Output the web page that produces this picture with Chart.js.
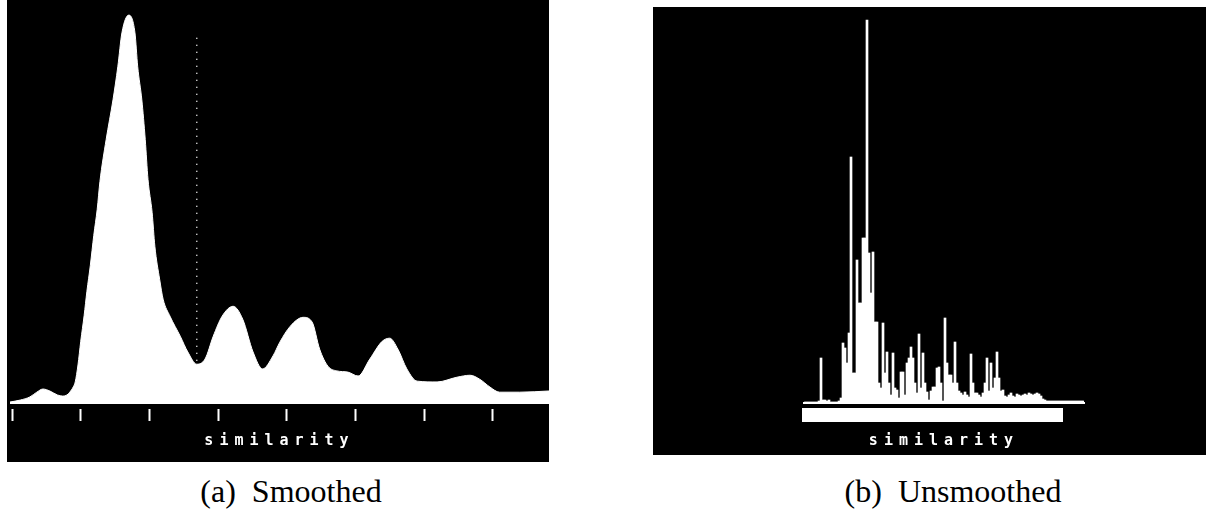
<!DOCTYPE html>
<html>
<head>
<meta charset="utf-8">
<script src="https://cdn.jsdelivr.net/npm/chart.js@4.4.0/dist/chart.umd.min.js"></script>
<style>
  body { margin: 0; background: #fff; width: 1206px; height: 514px; position: relative; overflow: hidden; }
  canvas { position: absolute; background: #000; }
  #smoothChart { left: 7px; top: 0; }
  #unsmChart { left: 653px; top: 7px; }
  .caption { position: absolute; top: 475px; font-family: 'Liberation Serif', serif; font-size: 32px;
             line-height: 32px; color: #000; white-space: pre; transform: translateX(-50%); }
</style>
</head>
<body>
<canvas id="smoothChart" width="542" height="462"></canvas>
<canvas id="unsmChart" width="553" height="448"></canvas>
<div class="caption" style="left:291px">(a)  Smoothed</div>
<div class="caption" style="left:953px">(b)  Unsmoothed</div>

<script>
'use strict';

// ------------------------------- Data ------------------------------//
// (a) smoothed histogram: similarity vs frequency
const smoothX = [-0.03, 0.12, 0.26, 0.36, 0.45, 0.55, 0.66, 0.74, 0.80, 0.84, 0.89, 0.92, 0.96, 1.00,
  1.05, 1.09, 1.14, 1.19, 1.24, 1.28, 1.37, 1.47, 1.54, 1.60, 1.70, 1.79, 1.83, 1.89, 1.94, 1.98,
  2.04, 2.08, 2.15, 2.20, 2.30, 2.45, 2.56, 2.69, 2.81, 2.93, 3.06, 3.22, 3.36, 3.51, 3.65, 3.80,
  3.90, 4.05, 4.24, 4.37, 4.48, 4.60, 4.73, 4.89, 5.04, 5.21, 5.39, 5.50, 5.62, 5.75, 5.90, 6.19,
  6.48, 6.67, 6.81, 6.96, 7.10, 7.39, 7.82];
const smoothY = [0.5, 1.0, 1.8, 3.0, 3.8, 3.3, 2.3, 2.0, 2.3, 3.0, 4.3, 5.6, 9.9, 15.9,
  22.5, 28.6, 35.2, 42.8, 49.4, 56.5, 67.1, 77.2, 85.6, 94.2, 98.7, 94.2, 85.6, 77.2, 67.1, 57.0,
  48.6, 40.0, 31.6, 26.6, 22.3, 17.2, 13.2, 10.1, 11.4, 17.2, 22.3, 24.8, 21.5, 13.2, 8.9, 12.2,
  15.7, 19.7, 22.0, 20.8, 13.9, 9.6, 8.4, 8.1, 7.1, 11.4, 15.9, 16.7, 13.9, 8.9, 5.8, 5.6,
  6.8, 7.3, 6.3, 4.3, 3.0, 3.0, 3.3];
const smoothTicks = [0, 1, 2, 3, 4, 5, 6, 7];
const thresholdX = 2.69;
const thresholdY = [11, 94];

// (b) unsmoothed histogram: one count per similarity bin
const unsmCounts = [1, 1, 1, 1, 1, 1, 1, 2, 45, 3, 3, 2, 3, 1, 1, 1, 1, 2, 5,
  60, 55, 40, 70, 246, 30, 30, 143, 100, 100, 165, 165, 383, 150, 110, 151, 81, 81, 20, 15,
  80, 30, 51, 20, 8, 50, 15, 13, 5, 31, 31, 8, 40, 45, 56, 45, 20, 10, 69, 15, 50, 20, 11, 3,
  12, 16, 16, 35, 36, 20, 2, 85, 40, 28, 28, 20, 61, 20, 12, 10, 8, 11, 8, 6, 49,
  20, 10, 10, 8, 6, 10, 20, 45, 12, 40, 15, 25, 51, 25, 12, 13,
  7, 6, 8, 10, 7, 6, 9, 8, 7, 8, 9, 8, 10, 9, 8, 9, 10, 9, 7, 4, 3,
  2, 2, 2, 2, 2, 2, 2, 2, 2, 2, 2, 2, 2, 2, 2, 2, 2, 2, 2];
const unsmBins = unsmCounts.map((c, i) => i);
const bandEnd = 129;

// ------------------------------- Plugins ------------------------------//
const spacedTitle = {
  id: 'spacedTitle',
  beforeDraw(chart) {
    chart.ctx.letterSpacing = '6px';
  }
};

const axisBand = {
  id: 'axisBand',
  afterDatasetsDraw(chart) {
    const { ctx, scales: { x, y } } = chart;
    const left = x.left - 2;
    const right = x.getPixelForValue(bandEnd);
    ctx.save();
    ctx.fillStyle = '#fff';
    ctx.fillRect(left, y.bottom + 5, right - left, 14);
    ctx.restore();
  }
};

const titleFont = { family: 'DejaVu Sans Mono', weight: 'bold', size: 15 };

// ------------------------------- Smoothed chart ------------------------------//
new Chart(document.getElementById('smoothChart'), {
  type: 'line',
  data: {
    datasets: [{
      label: 'smoothed',
      data: smoothX.map((x, i) => ({ x: x, y: smoothY[i] })),
      fill: 'origin',
      backgroundColor: '#fff',
      borderColor: '#fff',
      borderWidth: 1,
      pointRadius: 0,
      cubicInterpolationMode: 'monotone'
    }, {
      label: 'threshold',
      data: thresholdY.map(y => ({ x: thresholdX, y: y })),
      fill: false,
      borderColor: '#fff',
      borderWidth: 1.5,
      borderDash: [1, 6],
      pointRadius: 0
    }]
  },
  options: {
    responsive: false,
    animation: false,
    events: [],
    layout: { padding: { left: 3, right: 0, top: 10, bottom: 0 } },
    plugins: { legend: { display: false }, tooltip: { enabled: false } },
    scales: {
      x: {
        type: 'linear',
        min: -0.03,
        max: 7.82,
        afterBuildTicks: s => { s.ticks = smoothTicks.map(v => ({ value: v })); },
        ticks: { display: false },
        grid: {
          drawOnChartArea: false,
          tickColor: '#fff',
          tickLength: 17,
          tickWidth: 2,
          tickBorderDash: [0, 5, 12, 40]
        },
        border: { display: false },
        title: { display: true, text: 'similarity', color: '#fff', font: titleFont, padding: { top: 11, bottom: 12 } }
      },
      y: { display: false, min: 0, max: 100 }
    }
  },
  plugins: [spacedTitle]
});

// ------------------------------- Unsmoothed chart ------------------------------//
new Chart(document.getElementById('unsmChart'), {
  type: 'bar',
  data: {
    labels: unsmBins,
    datasets: [{
      label: 'unsmoothed',
      data: unsmCounts,
      backgroundColor: '#fff',
      borderWidth: 0,
      barPercentage: 1,
      categoryPercentage: 1
    }]
  },
  options: {
    responsive: false,
    animation: false,
    events: [],
    layout: { padding: { left: 151, right: 122, top: 6, bottom: 0 } },
    plugins: { legend: { display: false }, tooltip: { enabled: false } },
    scales: {
      x: {
        ticks: { display: false },
        grid: { display: false, drawTicks: false },
        border: { display: true, color: '#fff', width: 2 },
        title: { display: true, text: 'similarity', color: '#fff', font: titleFont, padding: { top: 29, bottom: 5 } }
      },
      y: { display: false, min: 0, max: 390 }
    }
  },
  plugins: [spacedTitle, axisBand]
});
</script>
</body>
</html>
